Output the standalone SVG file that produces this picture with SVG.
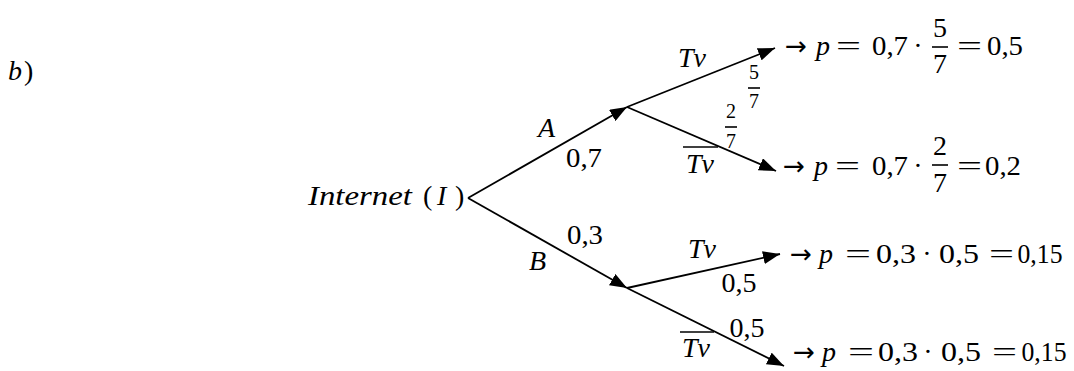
<svg xmlns="http://www.w3.org/2000/svg" width="1074" height="371" viewBox="0 0 1074 371">
<style>
text{font-family:"Liberation Serif","DejaVu Serif",serif;fill:#000}
.it{font-style:italic;font-size:28px}
.rm{font-size:28px}
.ar{font-family:"DejaVu Sans",sans-serif;font-size:26px}
.sm{font-size:20px}
.c{text-anchor:middle}
.edge{stroke:#000;stroke-width:1.8;fill:none;marker-end:url(#ah)}
.bar{stroke:#000;stroke-width:1.6}
</style>
<defs>
<marker id="ah" markerUnits="userSpaceOnUse" markerWidth="17" markerHeight="13" refX="17" refY="6.5" orient="auto">
<path d="M0,0 L17,6.5 L0,13 Z" fill="#000"/>
</marker>
</defs>
<rect width="1074" height="371" fill="#fff"/>

<g id="label-b">
<text class="it" x="8" y="80">b</text><text class="rm" x="24" y="80">)</text>
</g>

<g id="connectors">
<line class="edge" x1="468" y1="198" x2="627" y2="107"/>
<line class="edge" x1="468" y1="198" x2="627" y2="288"/>
<line class="edge" x1="627" y1="107" x2="775" y2="48"/>
<line class="edge" x1="627" y1="107" x2="776" y2="171"/>
<line class="edge" x1="627" y1="288" x2="780" y2="254"/>
<line class="edge" x1="627" y1="288" x2="784" y2="366"/>
</g>

<g id="edge-labels">
<text class="it" x="538" y="137">A</text>
<text class="rm c" x="584" y="167" textLength="36" lengthAdjust="spacingAndGlyphs">0,7</text>
<text class="it" x="678" y="67">Tv</text>
<text class="sm c" x="754" y="79">5</text>
<line class="bar" x1="748" y1="88" x2="760" y2="88"/>
<text class="sm c" x="754" y="108">7</text>
<text class="sm c" x="731" y="118">2</text>
<line class="bar" x1="725" y1="127" x2="737" y2="127"/>
<text class="sm c" x="731" y="148">7</text>
<line class="bar" x1="683" y1="147" x2="718" y2="147"/>
<text class="it" x="686" y="173">Tv</text>
<text class="rm c" x="585" y="244" textLength="36" lengthAdjust="spacingAndGlyphs">0,3</text>
<text class="it" x="529" y="270">B</text>
<text class="it" x="688" y="258">Tv</text>
<text class="rm c" x="739" y="292" textLength="35" lengthAdjust="spacingAndGlyphs">0,5</text>
<text class="rm c" x="747" y="337" textLength="35" lengthAdjust="spacingAndGlyphs">0,5</text>
<line class="bar" x1="680" y1="332" x2="714" y2="332"/>
<text class="it" x="682" y="357">Tv</text>
</g>

<g id="node-root">
<text class="it" x="308" y="205" textLength="104" lengthAdjust="spacingAndGlyphs">Internet</text>
<text class="rm" x="423" y="205">(</text>
<text class="it" x="437" y="205">I</text>
<text class="rm" x="455" y="205">)</text>
</g>

<g id="node-A"></g>
<g id="node-B"></g>

<g id="leaf-1">
<text class="ar" x="785" y="55" textLength="22" lengthAdjust="spacingAndGlyphs">→</text>
<text class="it" x="816" y="55">p</text>
<text class="rm" x="836" y="55" textLength="25" lengthAdjust="spacingAndGlyphs">=</text>
<text class="rm c" x="890" y="55" textLength="36" lengthAdjust="spacingAndGlyphs">0,7</text>
<text class="rm c" x="918" y="55">·</text>
<text class="rm c" x="940" y="37">5</text>
<line class="bar" x1="932" y1="47" x2="948" y2="47"/>
<text class="rm c" x="940" y="73">7</text>
<text class="rm" x="957" y="55" textLength="25" lengthAdjust="spacingAndGlyphs">=</text>
<text class="rm c" x="1005" y="55" textLength="36" lengthAdjust="spacingAndGlyphs">0,5</text>
</g>

<g id="leaf-2">
<text class="ar" x="783" y="175" textLength="22" lengthAdjust="spacingAndGlyphs">→</text>
<text class="it" x="814" y="175">p</text>
<text class="rm" x="835" y="175" textLength="25" lengthAdjust="spacingAndGlyphs">=</text>
<text class="rm c" x="890" y="175" textLength="36" lengthAdjust="spacingAndGlyphs">0,7</text>
<text class="rm c" x="918" y="175">·</text>
<text class="rm c" x="940" y="155">2</text>
<line class="bar" x1="932" y1="165" x2="948" y2="165"/>
<text class="rm c" x="940" y="192">7</text>
<text class="rm" x="957" y="175" textLength="25" lengthAdjust="spacingAndGlyphs">=</text>
<text class="rm c" x="1003" y="175" textLength="36" lengthAdjust="spacingAndGlyphs">0,2</text>
</g>

<g id="leaf-3">
<text class="ar" x="790" y="263" textLength="22" lengthAdjust="spacingAndGlyphs">→</text>
<text class="it" x="819" y="263">p</text>
<text class="rm" x="845" y="263" textLength="26" lengthAdjust="spacingAndGlyphs">=</text>
<text class="rm c" x="896" y="263" textLength="40" lengthAdjust="spacingAndGlyphs">0,3</text>
<text class="rm c" x="927" y="263">·</text>
<text class="rm c" x="959" y="263" textLength="40" lengthAdjust="spacingAndGlyphs">0,5</text>
<text class="rm" x="989" y="263" textLength="25" lengthAdjust="spacingAndGlyphs">=</text>
<text class="rm c" x="1040" y="263" textLength="45" lengthAdjust="spacingAndGlyphs">0,15</text>
</g>

<g id="leaf-4">
<text class="ar" x="793" y="361" textLength="22" lengthAdjust="spacingAndGlyphs">→</text>
<text class="it" x="822" y="361">p</text>
<text class="rm" x="848" y="361" textLength="26" lengthAdjust="spacingAndGlyphs">=</text>
<text class="rm c" x="898" y="361" textLength="40" lengthAdjust="spacingAndGlyphs">0,3</text>
<text class="rm c" x="928" y="361">·</text>
<text class="rm c" x="961" y="361" textLength="40" lengthAdjust="spacingAndGlyphs">0,5</text>
<text class="rm" x="992" y="361" textLength="25" lengthAdjust="spacingAndGlyphs">=</text>
<text class="rm c" x="1044" y="361" textLength="45" lengthAdjust="spacingAndGlyphs">0,15</text>
</g>
</svg>
